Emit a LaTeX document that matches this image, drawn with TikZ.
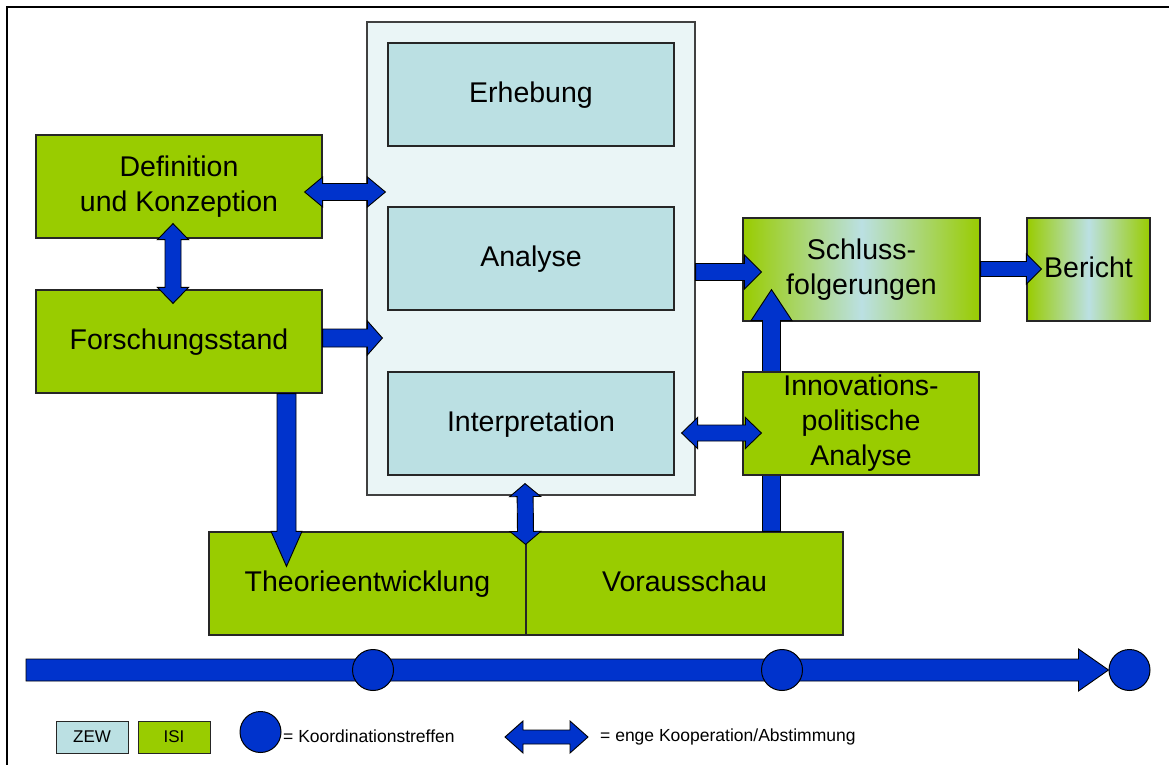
\documentclass[tikz,border=0pt]{standalone}
\usepackage{fontspec}
\setmainfont{Liberation Sans}
\usetikzlibrary{calc}

\definecolor{isigreen}{HTML}{99CC00}
\definecolor{zewblue}{HTML}{BBE0E3}
\definecolor{zewpale}{HTML}{EAF5F6}
\definecolor{coopblue}{HTML}{0033CC}

\newcommand\boxstrut{\rule[-6pt]{0pt}{28pt}}

% block arrows: start, end, shaft width, head width, head length
\newcommand\onearrow[5]{%
  \draw[fatarrow] let \p1=#1, \p2=#2,
      \n1={veclen(\x2-\x1,\y2-\y1)}, \n2={atan2(\y2-\y1,\x2-\x1)} in
    [shift={(\p1)}, rotate=\n2]
    (0pt,#3/2) -- ({\n1-#5},#3/2) -- ({\n1-#5},#4/2) -- ({\n1+0pt},0pt)
    -- ({\n1-#5},-#4/2) -- ({\n1-#5},-#3/2) -- (0pt,-#3/2) -- cycle;}
\newcommand\twoarrow[5]{%
  \draw[fatarrow] let \p1=#1, \p2=#2,
      \n1={veclen(\x2-\x1,\y2-\y1)}, \n2={atan2(\y2-\y1,\x2-\x1)} in
    [shift={(\p1)}, rotate=\n2]
    (0pt,0pt) -- (#5,#4/2) -- (#5,#3/2) -- ({\n1-#5},#3/2) -- ({\n1-#5},#4/2)
    -- ({\n1+0pt},0pt) -- ({\n1-#5},-#4/2) -- ({\n1-#5},-#3/2) -- (#5,-#3/2)
    -- (#5,-#4/2) -- cycle;}

\tikzset{
  box/.style={draw=black!85, line width=1.2pt, align=center, inner sep=0pt,
    font=\fontsize{28.5}{35}\selectfont,
    execute at begin node=\boxstrut, execute at end node=\boxstrut},
  isi/.style={box, fill=isigreen},
  zew/.style={box, fill=zewblue},
  mixed/.style={box, left color=isigreen, right color=isigreen, middle color=zewblue},
  keybox/.style={draw=black!85, line width=1pt, minimum width=72pt, minimum height=32pt,
    inner sep=0pt, font=\fontsize{17}{20}\selectfont},
  keytext/.style={anchor=west, inner sep=0pt, font=\fontsize{17.5}{20}\selectfont},
  fatarrow/.style={draw=black, line width=0.9pt, fill=coopblue, line join=miter},
  meeting/.style={circle, draw=black, line width=1pt, fill=coopblue, minimum size=41pt, inner sep=0pt}
}

\begin{document}
\begin{tikzpicture}[x=1pt, y=-1pt]
  \useasboundingbox (0,0) rectangle (1169,765);
  \draw[line width=2pt] (1169,7) -- (7,7) -- (7,765);

  % ZEW block
  \node[draw=black!75, line width=1.2pt, fill=zewpale, minimum width=328pt,
    minimum height=473pt] (cont) at (531,258.5) {};
  \node[zew, minimum width=286pt, minimum height=103pt] (erh) at (531,94.5) {Erhebung};
  \node[zew, minimum width=286pt, minimum height=103pt] (ana) at (531,258.5) {Analyse};
  \node[zew, minimum width=286pt, minimum height=103pt] (interp) at (531,423.5) {Interpretation};

  % ISI blocks
  \node[isi, minimum width=286pt, minimum height=103pt] (defi) at (179,186.5) {Definition\\und Konzeption};
  \node[isi, minimum width=286pt, minimum height=103pt] (forsch) at (179,341.5) {Forschungsstand};
  \node[isi, minimum width=317pt, minimum height=103pt] (theo) at (367.5,583.5) {Theorieentwicklung};
  \node[isi, minimum width=317pt, minimum height=103pt] (vor) at (684.5,583.5) {Vorausschau};
  \node[mixed, minimum width=237pt, minimum height=103pt] (schluss) at (861.5,269.5) {Schluss-\\folgerungen};
  \node[mixed, minimum width=123pt, minimum height=103pt] (ber) at (1088.5,269.5) {Bericht};

  \twoarrow{($(defi.east)+(-18,5.5)$)}{($(cont.west |- defi.east)+(19,5.5)$)}{17pt}{30pt}{18pt}
  \twoarrow{($(defi.south)+(-6,-15)$)}{($(forsch.north)+(-6,14)$)}{16pt}{31pt}{16pt}
  \onearrow{($(forsch.east)+(0,-3.5)$)}{($(cont.west |- forsch.east)+(16,-3.5)$)}{18pt}{34pt}{15pt}
  \onearrow{($(forsch.south)+(107.5,0)$)}{($(theo.north)+(-81,35)$)}{19pt}{31pt}{35pt}
  \twoarrow{($(theo.north east)+(-1,13)$)}{($(cont.south)+(-6,-12)$)}{16pt}{31pt}{13pt}
  \onearrow{($(cont.east |- ana.east)+(0,13.5)$)}{($(schluss.west)+(19,2.5)$)}{17pt}{34pt}{17pt}
  \onearrow{($(schluss.east)+(0,-0.5)$)}{($(ber.west)+(15,-0.5)$)}{15pt}{30pt}{15pt}
  \onearrow{($(vor.north)+(87,0)$)}{($(schluss.south)+(-90,-32)$)}{18pt}{41pt}{31pt}

  \node[isi, minimum width=236pt, minimum height=103pt] (innov) at (861,423.5) {Innovations-\\politische\\Analyse};
  \twoarrow{($(interp.east)+(7,9.5)$)}{($(innov.west)+(19,9.5)$)}{16pt}{31pt}{16pt}

  % time line
  \coordinate (tstart) at (26,670);
  \node[meeting] (m3) at (1129.5,670) {};
  \onearrow{(tstart)}{(m3.west)}{22pt}{42pt}{30pt}
  \node[meeting] (m1) at (373,670) {};
  \node[meeting] (m2) at (782,670) {};

  % legend
  \node[keybox, fill=zewblue] (zewkey) at (92,737) {ZEW};
  \node[keybox, fill=isigreen] (isikey) at (174,737) {ISI};
  \node[meeting] (meetkey) at (260.5,732) {};
  \node[keytext] (meettext) at (283,736) {= Koordinationstreffen};
  \coordinate (coopa) at (505,737);
  \coordinate (coopb) at (588,737);
  \twoarrow{(coopa)}{(coopb)}{14pt}{32pt}{18pt}
  \node[keytext] (cooptext) at (600,737) {= enge Kooperation/Abstimmung};
\end{tikzpicture}
\end{document}
